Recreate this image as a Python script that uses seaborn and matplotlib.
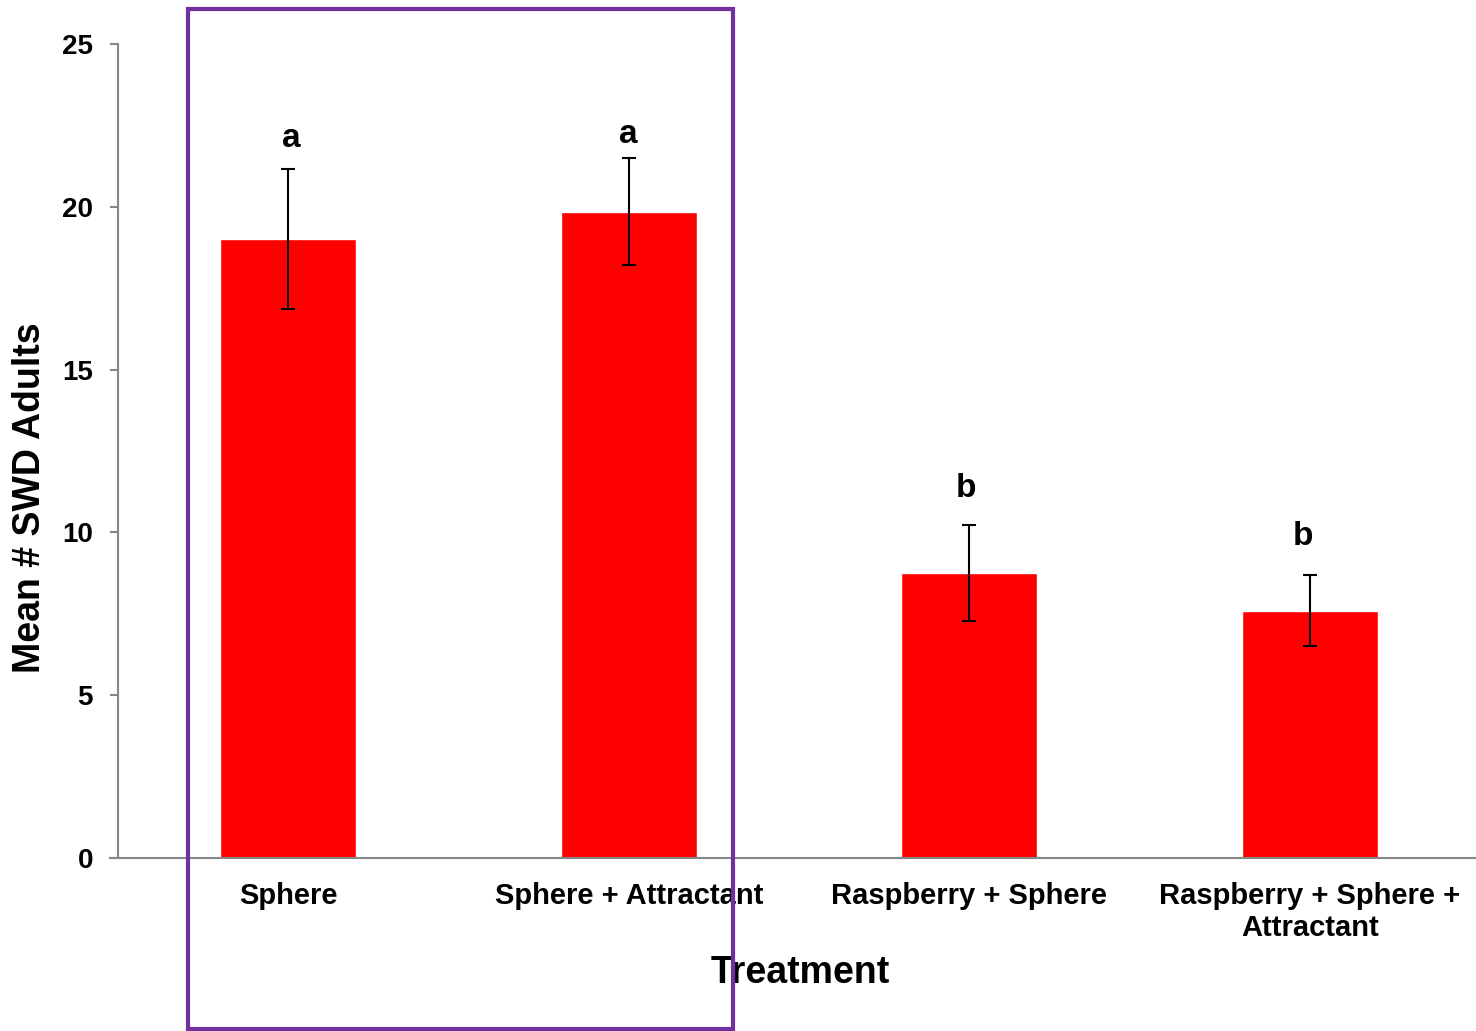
import matplotlib
matplotlib.use("Agg")
import matplotlib.pyplot as plt
from matplotlib.patches import Rectangle
import seaborn as sns
import pandas as pd

# Treatment means with standard errors and significance letters
treatments = ["Sphere", "Sphere + Attractant", "Raspberry + Sphere",
              "Raspberry + Sphere +\nAttractant"]
mean_adults = [19.0, 19.85, 8.75, 7.6]
std_err = [2.15, 1.65, 1.48, 1.09]
sig_letters = ["a", "a", "b", "b"]
letter_heights = [21.85, 21.95, 11.1, 9.6]
y_ticks = [0, 5, 10, 15, 20, 25]

df = pd.DataFrame({"Treatment": treatments, "Mean": mean_adults})

sns.set_theme(style="white")
plt.rcParams["font.family"] = ["Liberation Sans", "DejaVu Sans"]
plt.rcParams["font.weight"] = "bold"

fig = plt.figure(figsize=(14.76, 10.31), dpi=100)
ax = fig.add_axes([118 / 1476, 1 - 858 / 1031, (1480 - 118) / 1476, (858 - 44) / 1031])

sns.barplot(data=df, x="Treatment", y="Mean", color="#FF0000", width=0.4,
            errorbar=None, saturation=1, ax=ax)

ax.errorbar(range(len(treatments)), mean_adults, yerr=std_err, fmt="none",
            ecolor="black", elinewidth=1.5, capsize=5, capthick=1.5, zorder=5)

for i, (lt, h) in enumerate(zip(sig_letters, letter_heights)):
    ax.text(i - 0.01 * (i - 1), h, lt, ha="center", va="baseline", fontsize=24,
            fontweight="bold", color="black")

ax.set_xlim(-0.5, 3.5)
ax.set_ylim(0, 25)
ax.set_yticks(y_ticks)
ax.tick_params(axis="y", direction="out", length=6, width=1.5, color="#888888",
               labelsize=20, pad=12, left=True)
ax.tick_params(axis="x", length=0, labelsize=21, pad=17)
for lab in ax.get_xticklabels() + ax.get_yticklabels():
    lab.set_fontweight("bold")
    lab.set_color("black")
for lab in ax.get_xticklabels():
    lab.set_multialignment("center")

for side in ["top", "right"]:
    ax.spines[side].set_visible(False)
for side in ["left", "bottom"]:
    ax.spines[side].set_color("#888888")
    ax.spines[side].set_linewidth(1.5)
ax.spines["bottom"].set_bounds(-0.5 - 8 / 340.5, 3.5)
ax.spines["bottom"].set_clip_on(False)

ax.set_xlabel("Treatment", fontsize=27, fontweight="bold", color="black")
ax.set_ylabel("Mean # SWD Adults", fontsize=27, fontweight="bold", color="black")
ax.xaxis.set_label_coords((800 - 118) / 1362, -(973 - 858) / 814)
ax.yaxis.set_label_coords(-(118 - 30) / 1362, (858 - 498) / 814)
ax.xaxis.label.set_va("center")
ax.yaxis.label.set_va("center")

# Highlight box around the sphere-only treatments
fig.patches.append(Rectangle((188 / 1476, 1 - 1029 / 1031),
                             (733 - 188) / 1476, (1029 - 9) / 1031,
                             transform=fig.transFigure, fill=False,
                             edgecolor="#7030A0", linewidth=3, zorder=10))

fig.savefig("out.png", dpi=100, facecolor="white")
